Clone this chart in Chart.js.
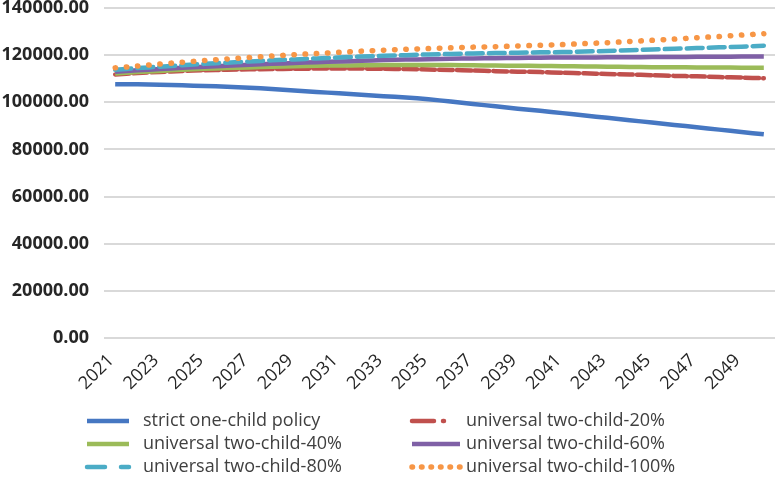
<!DOCTYPE html>
<html><head><meta charset="utf-8">
<script src="https://cdn.jsdelivr.net/npm/chart.js@4"></script>
<style>html,body{margin:0;padding:0;background:#fff}</style>
</head><body>
<canvas id="c" width="778" height="482"></canvas>
<script>
const years = ['2021','2022','2023','2024','2025','2026','2027','2028','2029','2030',
  '2031','2032','2033','2034','2035','2036','2037','2038','2039','2040',
  '2041','2042','2043','2044','2045','2046','2047','2048','2049','2050'];

const seriesNames = ['strict one-child policy','universal two-child-20%','universal two-child-40%',
  'universal two-child-60%','universal two-child-80%','universal two-child-100%'];

const strictOneChild = [107700,107600,107400,107200,106900,106600,106200,105600,105000,104400,
  103800,103200,102600,102000,101300,100300,99300,98300,97300,96400,
  95400,94400,93400,92400,91400,90400,89400,88400,87400,86400];
const twoChild20 = [111800,112400,112900,113300,113600,113800,114000,114100,114200,114300,
  114300,114300,114200,114100,113900,113700,113500,113200,113000,112800,
  112500,112300,112000,111800,111500,111200,111000,110700,110500,110200];
const twoChild40 = [112200,112800,113300,113800,114200,114500,114800,115100,115300,115500,
  115600,115700,115800,115800,115800,115800,115700,115600,115500,115400,
  115300,115200,115100,115000,114900,114900,114800,114800,114700,114700];
const twoChild60 = [113000,113600,114100,114600,115100,115500,115900,116300,116700,117000,
  117300,117600,117900,118100,118300,118500,118600,118700,118800,118900,
  119000,119000,119100,119100,119200,119200,119300,119300,119400,119400];
const twoChild80 = [113800,114500,115100,115700,116300,116800,117300,117800,118200,118600,
  119000,119400,119700,120000,120300,120500,120700,120900,121000,121200,
  121300,121500,121800,122100,122400,122700,123000,123300,123600,124000];
const twoChild100 = [114600,115400,116200,117000,117700,118400,119000,119600,120200,120700,
  121200,121700,122100,122500,122800,123100,123400,123600,123900,124200,
  124500,124900,125300,125800,126300,126800,127400,127900,128500,129100];

const yTicks = [0,20000,40000,60000,80000,100000,120000,140000];

const allSeries = [strictOneChild, twoChild20, twoChild40, twoChild60, twoChild80, twoChild100];
const styles = [
  {color:'#4677C2', width:4.5, dash:[], cap:'butt', legendDash:[]},
  {color:'#C0504D', width:4.5, dash:[14,4], cap:'round', legendDash:[22,9,1,30]},
  {color:'#9BBB59', width:4.5, dash:[], cap:'butt', legendDash:[]},
  {color:'#7F60A6', width:4.5, dash:[], cap:'butt', legendDash:[]},
  {color:'#4BACC6', width:4.5, dash:[16,6], cap:'round', legendDash:[18,16]},
  {color:'#F79646', width:5.5, dash:[0.5,10.7], cap:'round', legendDash:[0.5,9]}
];

const datasets = allSeries.map((d,i)=>({
  label: seriesNames[i],
  data: d,
  borderColor: styles[i].color,
  backgroundColor: styles[i].color,
  borderWidth: styles[i].width,
  borderDash: styles[i].dash,
  borderCapStyle: styles[i].cap,
  legendDash: styles[i].legendDash,
  pointRadius: 0,
  tension: 0.2,
  fill: false,
  order: 5 - i
}));

const gridLegend = {
  id:'gridLegend',
  afterDraw(chart){
    const ctx = chart.ctx;
    const cols = [{sx:87, len:42, tx:143},{sx:412, len:48, tx:466}];
    const rows = [421,444,467];
    chart.data.datasets.forEach((ds,i)=>{
      const c = cols[i%2], y = rows[Math.floor(i/2)];
      ctx.save();
      ctx.strokeStyle = ds.borderColor;
      ctx.lineWidth = ds.borderWidth;
      ctx.lineCap = ds.borderCapStyle;
      ctx.setLineDash(ds.legendDash);
      ctx.beginPath(); ctx.moveTo(c.sx,y); ctx.lineTo(c.sx+c.len,y); ctx.stroke();
      ctx.setLineDash([]);
      ctx.fillStyle = '#404040';
      ctx.font = '18px "Open Sans"';
      ctx.textBaseline = 'middle';
      ctx.textAlign = 'left';
      ctx.fillText(ds.label, c.tx, y);
      ctx.restore();
    });
  }
};

new Chart(document.getElementById('c'), {
  type:'line',
  data:{labels: years, datasets},
  plugins:[gridLegend],
  options:{
    responsive:false,
    animation:false,
    layout:{padding:{top:8,right:3,left:0,bottom:0}},
    plugins:{legend:{display:false}, tooltip:{enabled:false}},
    scales:{
      x:{
        offset:true,
        grid:{display:false, drawTicks:false},
        border:{display:false},
        afterFit(scale){ scale.height = 144; scale.paddingLeft = 0; scale.paddingRight = 0; },
        ticks:{
          autoSkip:false, maxRotation:45, minRotation:45, padding:12, labelOffset:-4,
          color:'#262626', font:{family:'"Open Sans"', size:18},
          callback(v, idx){ return idx % 2 === 0 ? years[idx] : ''; }
        }
      },
      y:{
        min:0, max:140000,
        afterBuildTicks(scale){ scale.ticks = yTicks.map(v=>({value:v})); },
        afterFit(scale){ scale.width = 104; scale.paddingTop = 0; scale.paddingBottom = 0; },
        grid:{color:'#D9D9D9', lineWidth:2, drawTicks:false},
        border:{display:false},
        ticks:{
          padding:15, color:'#262626', font:{family:'"Open Sans"', size:18, weight:'bold'},
          callback(v){ return Number(v).toFixed(2); }
        }
      }
    }
  }
});
</script>
</body></html>
